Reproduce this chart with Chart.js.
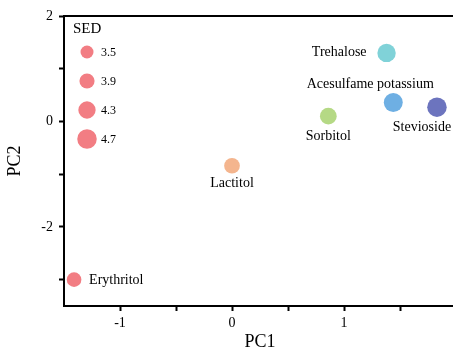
<!DOCTYPE html>
<html>
<head>
<meta charset="utf-8">
<script src="https://cdn.jsdelivr.net/npm/chart.js@4"></script>
<style>
  html, body { margin: 0; padding: 0; background: #fff; overflow: hidden; }
  #wrap { width: 480px; height: 351px; }
</style>
</head>
<body>
<div id="wrap"><canvas id="pcaChart" width="480" height="351"></canvas></div>
<script>
  // PCA scores of sweeteners, point size = SED
  var sweeteners = ['Erythritol', 'Lactitol', 'Sorbitol', 'Trehalose', 'Acesulfame potassium', 'Stevioside'];
  var pc1 = [-1.41, 0.0, 0.86, 1.38, 1.44, 1.83];
  var pc2 = [-3.0, -0.84, 0.10, 1.30, 0.36, 0.27];
  var sed = [3.8, 4.0, 4.2, 4.5, 4.6, 4.7];
  var sedLegend = [3.5, 3.9, 4.3, 4.7];

  var colors = ['#F27D83', '#F4B58E', '#B5D985', '#80D2D8', '#6EAFE3', '#6C74BE'];
  var legendColor = '#F27D83';
  // text offset from point centre: dx, dy, align
  var labelPlacement = [[15, 1, 'left'], [0, 18, 'center'], [0, 20, 'center'], [-20, -1, 'right'], [-23, -18, 'center'], [-15, 20, 'center']];

  function sedRadius(v) {
    return 6.5 + (v - 3.5) * 2.7;
  }

  var FONT = "'Liberation Serif', 'DejaVu Serif', serif";
  Chart.defaults.font.family = FONT;
  Chart.defaults.color = '#000';

  var pointLabels = {
    id: 'pointLabels',
    afterDatasetsDraw: function (chart) {
      var ctx = chart.ctx;
      var meta = chart.getDatasetMeta(0);
      ctx.save();
      ctx.font = '14px ' + FONT;
      ctx.fillStyle = '#000';
      ctx.textBaseline = 'middle';
      meta.data.forEach(function (pt, i) {
        var p = labelPlacement[i];
        ctx.textAlign = p[2];
        ctx.fillText(sweeteners[i], pt.x + p[0], pt.y + p[1]);
      });
      ctx.restore();
    }
  };

  var sizeLegend = {
    id: 'sizeLegend',
    afterDraw: function (chart) {
      var ctx = chart.ctx;
      var a = chart.chartArea;
      ctx.save();
      ctx.fillStyle = '#000';
      ctx.textBaseline = 'middle';
      ctx.textAlign = 'left';
      ctx.font = '15px ' + FONT;
      ctx.fillText('SED', a.left + 9, a.top + 13);
      ctx.font = '12px ' + FONT;
      sedLegend.forEach(function (v, i) {
        var y = a.top + 36 + i * 29;
        ctx.beginPath();
        ctx.fillStyle = legendColor;
        ctx.arc(a.left + 23, y, sedRadius(v), 0, Math.PI * 2);
        ctx.fill();
        ctx.fillStyle = '#000';
        ctx.fillText(v.toFixed(1), a.left + 37, y + 1);
      });
      ctx.restore();
    }
  };

  new Chart(document.getElementById('pcaChart').getContext('2d'), {
    type: 'scatter',
    data: {
      datasets: [{
        data: pc1.map(function (x, i) { return { x: x, y: pc2[i] }; }),
        pointBackgroundColor: colors,
        pointBorderWidth: 0,
        pointRadius: function (c) { return sedRadius(sed[c.dataIndex]); },
        pointHoverRadius: function (c) { return sedRadius(sed[c.dataIndex]); }
      }]
    },
    options: {
      responsive: false,
      animation: false,
      devicePixelRatio: 1,
      layout: { padding: { left: 0, top: 16, right: 24, bottom: 0 } },
      plugins: {
        legend: { display: false },
        tooltip: { enabled: false }
      },
      scales: {
        x: {
          type: 'linear',
          min: -1.5,
          max: 2,
          afterFit: function (s) { s.height = 45; },
          border: { display: true, color: '#000', width: 2 },
          grid: {
            drawOnChartArea: false,
            tickLength: 5,
            tickWidth: 2,
            tickColor: function (c) { return c.tick && c.tick.value === -1.5 ? 'rgba(0,0,0,0)' : '#000'; }
          },
          ticks: {
            stepSize: 0.5,
            includeBounds: false,
            maxRotation: 0,
            autoSkip: false,
            padding: 4,
            font: { size: 14 },
            callback: function (v) { return Number.isInteger(v) ? String(v) : ''; }
          },
          title: { display: true, text: 'PC1', font: { size: 18, lineHeight: 1 }, padding: { top: 0, bottom: 0 } }
        },
        xTop: {
          type: 'linear',
          position: 'top',
          min: -1.5,
          max: 2,
          afterFit: function (s) { s.height = 0; },
          border: { display: true, color: '#000', width: 2 },
          grid: { display: false, drawTicks: false },
          ticks: { display: false }
        },
        y: {
          min: -3.5,
          max: 2,
          afterFit: function (s) { s.width = 64; },
          border: { display: true, color: '#000', width: 2 },
          grid: { drawOnChartArea: false, tickLength: 5, tickColor: '#000', tickWidth: 2 },
          ticks: {
            stepSize: 1,
            includeBounds: false,
            autoSkip: false,
            padding: 6,
            font: { size: 14 },
            callback: function (v) { return v % 2 === 0 ? String(v) : ''; }
          },
          title: { display: true, text: 'PC2', font: { size: 18, lineHeight: 1 }, padding: { top: 6, bottom: 0 } }
        }
      }
    },
    plugins: [pointLabels, sizeLegend]
  });
</script>
</body>
</html>
